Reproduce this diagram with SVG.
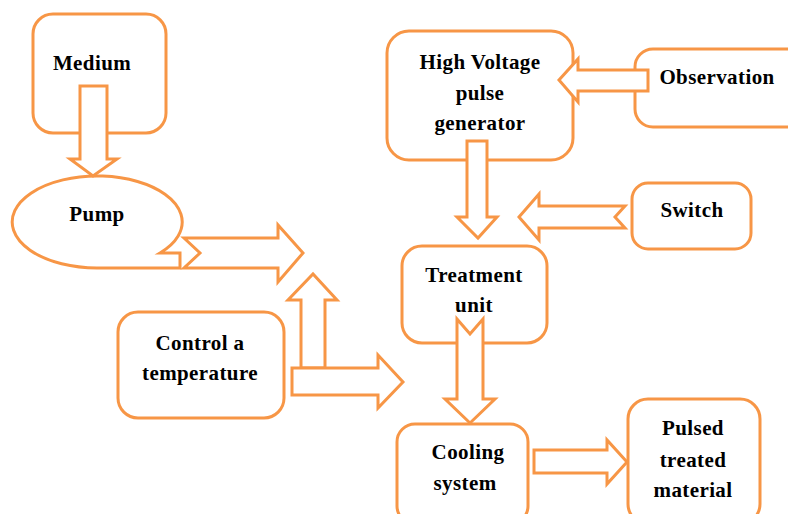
<svg xmlns="http://www.w3.org/2000/svg" width="788" height="514" viewBox="0 0 788 514">
<style>
.box{fill:#fff;stroke:#F79646;stroke-width:3}
.arr{fill:#fff;stroke:#F79646;stroke-width:3;stroke-linejoin:miter}
text{font-family:"Liberation Serif","Times New Roman",serif;font-weight:bold;font-size:21px;fill:#000;text-anchor:middle;letter-spacing:0.4px}
</style>
<rect width="788" height="514" fill="#fff"/>
<g id="medium"><rect class="box" x="33" y="14" width="133" height="119" rx="20"/><text x="92" y="70">Medium</text></g>
<g id="pump"><path class="box" d="M160,253 A85,46 0 1 0 97,268 L180,268 L180,253 Z"/><text x="97" y="221">Pump</text></g>
<g id="control"><rect class="box" x="118" y="312" width="166" height="106" rx="20"/><text x="200" y="350">Control a</text><text x="200" y="380">temperature</text></g>
<g id="hv"><rect class="box" x="387" y="31" width="186" height="129" rx="22"/><text x="480" y="69">High Voltage</text><text x="480" y="100">pulse</text><text x="480" y="130">generator</text></g>
<g id="observation"><rect class="box" x="635" y="49" width="170" height="78" rx="18"/><text x="717" y="84">Observation</text></g>
<g id="switch"><rect class="box" x="632" y="183" width="119" height="66" rx="16"/><text x="692" y="217">Switch</text></g>
<g id="treatment"><rect class="box" x="402" y="246" width="145" height="97" rx="20"/><text x="474" y="282">Treatment</text><text x="474" y="312">unit</text></g>
<g id="cooling"><rect class="box" x="397" y="424" width="131" height="100" rx="18"/><text x="468" y="459">Cooling</text><text x="465" y="490">system</text></g>
<g id="pulsed"><rect class="box" x="628" y="399" width="132" height="125" rx="20"/><text x="693" y="435">Pulsed</text><text x="693" y="467">treated</text><text x="693" y="497">material</text></g>
<g id="connectors">
<polygon class="arr" points="80,86 107,86 107,159 117,159 93,176 70,159 80,159"/>
<polygon class="arr" points="184,238 278,238 278,225 303,253 278,282 278,268 184,268 200,253"/>
<polygon class="arr" points="301,368 301,300 288,300 313,274 337,300 325,300 325,368"/>
<polygon class="arr" points="292,368 378,368 378,355 403,382 378,408 378,395 292,395"/>
<polygon class="arr" points="648,70 578,70 578,59 559,80 578,102 578,91 648,91"/>
<polygon class="arr" points="467,141 487,141 487,217 497,217 478,238 457,217 467,217"/>
<polygon class="arr" points="625,206 539,206 539,194 519,217 539,240 539,228 625,228 615,217"/>
<polygon class="arr" points="457,319 470,334 483,319 483,399 495,399 470,423 445,399 457,399"/>
<polygon class="arr" points="534,450 607,450 607,440 627,462 607,484 607,473 534,473"/>
</g>
</svg>
